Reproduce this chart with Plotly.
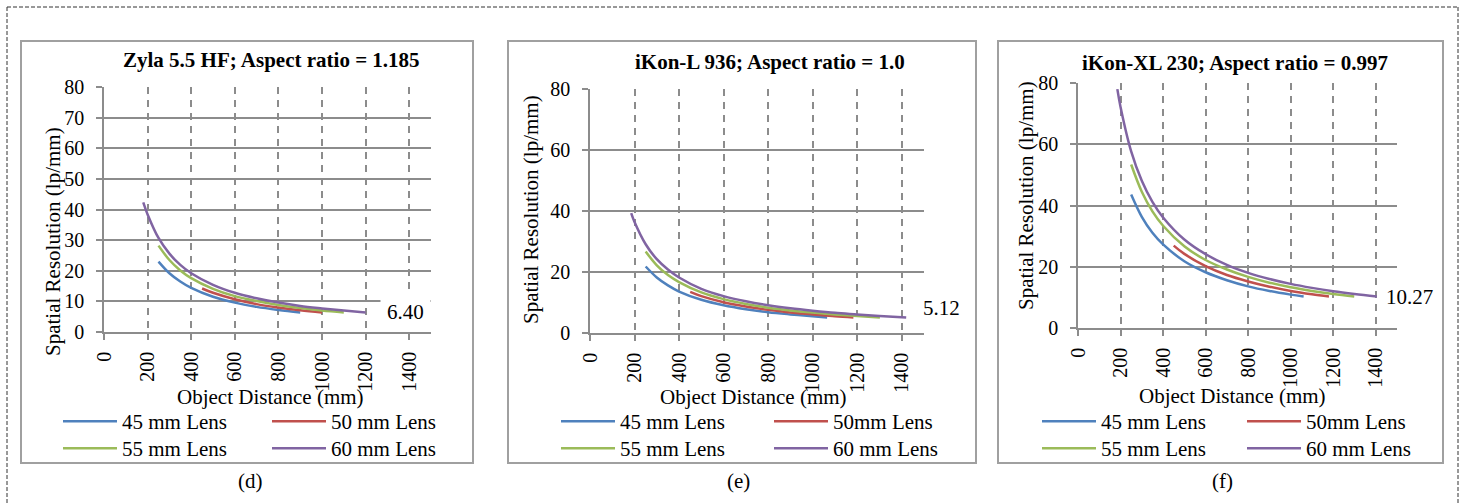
import plotly.graph_objects as go

W, H = 1465, 504
FONT = "Liberation Serif"
GRID = "#8c8c8c"
BOXC = "#a0a0a0"

lens_colors = ["#4F81BD", "#C0504D", "#9BBB59", "#8064A2"]

# ---------------- Panel (d): Zyla 5.5 HF ----------------
d_x45 = [250, 300, 350, 400, 500, 600, 700, 800, 900]
d_y45 = [23.0, 19.2, 16.5, 14.4, 11.5, 9.6, 8.2, 7.2, 6.4]
d_x50 = [450, 500, 600, 700, 800, 900, 1000]
d_y50 = [14.2, 12.8, 10.7, 9.1, 8.0, 7.1, 6.4]
d_x55 = [250, 300, 350, 400, 500, 600, 700, 800, 900, 1000, 1100]
d_y55 = [28.2, 23.5, 20.1, 17.6, 14.1, 11.7, 10.1, 8.8, 7.8, 7.0, 6.4]
d_x60 = [180, 200, 250, 300, 350, 400, 500, 600, 700, 800, 900, 1000, 1100, 1200]
d_y60 = [42.3, 38.4, 30.7, 25.6, 21.9, 19.2, 15.4, 12.8, 11.0, 9.6, 8.5, 7.7, 7.0, 6.4]
d_names = ["45 mm Lens", "50 mm Lens", "55 mm Lens", "60 mm Lens"]

# ---------------- Panel (e): iKon-L 936 ----------------
e_x45 = [250, 300, 350, 400, 500, 600, 700, 800, 900, 1000, 1065]
e_y45 = [21.8, 18.2, 15.6, 13.6, 10.9, 9.1, 7.8, 6.8, 6.1, 5.5, 5.12]
e_x50 = [450, 500, 600, 700, 800, 900, 1000, 1100, 1183]
e_y50 = [13.5, 12.1, 10.1, 8.7, 7.6, 6.7, 6.1, 5.5, 5.12]
e_x55 = [250, 300, 350, 400, 500, 600, 700, 800, 900, 1000, 1100, 1200, 1302]
e_y55 = [26.7, 22.2, 19.0, 16.7, 13.3, 11.1, 9.5, 8.3, 7.4, 6.7, 6.1, 5.6, 5.12]
e_x60 = [185, 200, 250, 300, 350, 400, 500, 600, 700, 800, 900, 1000, 1100, 1200, 1300, 1420]
e_y60 = [39.3, 36.4, 29.1, 24.2, 20.8, 18.2, 14.5, 12.1, 10.4, 9.1, 8.1, 7.3, 6.6, 6.1, 5.6, 5.12]
e_names = ["45 mm Lens", "50mm Lens", "55 mm Lens", "60 mm Lens"]

# ---------------- Panel (f): iKon-XL 230 ----------------
f_x45 = [250, 300, 350, 400, 500, 600, 700, 800, 900, 1000, 1061]
f_y45 = [43.6, 36.3, 31.1, 27.3, 21.8, 18.2, 15.6, 13.6, 12.1, 10.9, 10.27]
f_x50 = [450, 500, 600, 700, 800, 900, 1000, 1100, 1180]
f_y50 = [26.9, 24.2, 20.2, 17.3, 15.2, 13.5, 12.1, 11.0, 10.27]
f_x55 = [250, 300, 350, 400, 500, 600, 700, 800, 900, 1000, 1100, 1200, 1299]
f_y55 = [53.4, 44.5, 38.1, 33.4, 26.7, 22.2, 19.1, 16.7, 14.8, 13.3, 12.1, 11.1, 10.27]
f_x60 = [185, 200, 250, 300, 350, 400, 500, 600, 700, 800, 900, 1000, 1100, 1200, 1300, 1405]
f_y60 = [78.0, 72.2, 57.7, 48.1, 41.2, 36.1, 28.9, 24.1, 20.6, 18.0, 16.0, 14.4, 13.1, 12.0, 11.1, 10.27]
f_names = ["45 mm Lens", "50mm Lens", "55 mm Lens", "60 mm Lens"]

titles = ["Zyla 5.5 HF; Aspect ratio = 1.185",
          "iKon-L 936; Aspect ratio = 1.0",
          "iKon-XL 230; Aspect ratio = 0.997"]
captions = ["(d)", "(e)", "(f)"]
end_labels = ["6.40", "5.12", "10.27"]
y_dticks = [10, 20, 20]
x_tickvals = [0, 200, 400, 600, 800, 1000, 1200, 1400]
y_title = "Spatial Resolution (lp/mm)"
x_title = "Object Distance (mm)"

panels = [
    ([d_x45, d_x50, d_x55, d_x60], [d_y45, d_y50, d_y55, d_y60], d_names),
    ([e_x45, e_x50, e_x55, e_x60], [e_y45, e_y50, e_y55, e_y60], e_names),
    ([f_x45, f_x50, f_x55, f_x60], [f_y45, f_y50, f_y55, f_y60], f_names),
]

# ---------- layout geometry (pixels) ----------
plot_px = [  # x0, x1, ytop, ybottom of plot area
    (104, 431, 87, 332),
    (590, 924, 89, 333),
    (1078, 1397, 83, 328),
]
box_px = [(21, 473), (508, 976), (998, 1443)]
box_y = (41, 463)
title_pos = [(271, 60), (770, 62), (1235, 63)]
ytitle_pos = [(53, 242), (531, 210), (1026, 196)]
xtitle_pos = [(270, 397), (753, 397), (1232, 396)]
caption_pos = [(250, 481), (738, 481), (1222, 481)]
legend_cols = [(58, 267), (556, 769), (1037, 1242)]
legend_rows = [401, 428]   # top of each legend row (px)
label_shift = [(14, 0), (10, 9), (2, 0)]
# legend slot of each lens: (column, row)
slots = [(0, 0), (1, 0), (0, 1), (1, 1)]


def px(x):
    return x / W


def py(y):
    return 1 - y / H


fig = go.Figure()
shapes = []
annotations = []

for i, (xs, ys, names) in enumerate(panels):
    ax = "" if i == 0 else str(i + 1)
    for j in range(4):
        leg_idx = 4 * i + j
        leg = "legend" if leg_idx == 0 else f"legend{leg_idx + 1}"
        fig.add_trace(go.Scatter(
            x=xs[j], y=ys[j], mode="lines", name=names[j],
            line=dict(color=lens_colors[j], width=2.5, shape="spline", smoothing=1.0),
            xaxis="x" + ax, yaxis="y" + ax, legend=leg,
            hoverinfo="x+y+name",
        ))
        c, r = slots[j]
        fig.layout[leg] = dict(
            x=px(legend_cols[i][c]), xanchor="left", y=py(legend_rows[r]), yanchor="top",
            orientation="v", bgcolor="rgba(0,0,0,0)", borderwidth=0,
            font=dict(family=FONT, size=21, color="black"),
            itemwidth=54, tracegroupgap=0)
    x0, x1, yt, yb = plot_px[i]
    common = dict(showline=True, linecolor=GRID, linewidth=1.5,
                  ticks="outside", ticklen=6, tickwidth=1.5, tickcolor=GRID,
                  zeroline=False, gridcolor=GRID, gridwidth=1.5, automargin=False,
                  tickfont=dict(family=FONT, size=20, color="black"))
    fig.layout["xaxis" + ax] = dict(
        domain=[px(x0), px(x1)], range=[0, 1500], anchor="y" + ax,
        tickmode="array", tickvals=x_tickvals, tickangle=-90,
        showgrid=True, griddash="7px,6px", ticklabelstandoff=4, **common)
    fig.layout["yaxis" + ax] = dict(
        domain=[py(yb), py(yt)], range=[0, 80], anchor="x" + ax,
        dtick=y_dticks[i], tick0=0, showgrid=True, ticklabelstandoff=8, **common)

    # panel box
    shapes.append(dict(type="rect", xref="paper", yref="paper",
                       x0=px(box_px[i][0]), x1=px(box_px[i][1]),
                       y0=py(box_y[1]), y1=py(box_y[0]),
                       line=dict(color=BOXC, width=2), layer="below"))
    annotations.append(dict(text="<b>" + titles[i] + "</b>", xref="paper", yref="paper",
                            x=px(title_pos[i][0]), y=py(title_pos[i][1]),
                            xanchor="center", yanchor="middle", showarrow=False,
                            font=dict(family=FONT, size=21, color="black")))
    annotations.append(dict(text=y_title, xref="paper", yref="paper", textangle=-90,
                            x=px(ytitle_pos[i][0]), y=py(ytitle_pos[i][1]),
                            xanchor="center", yanchor="middle", showarrow=False,
                            font=dict(family=FONT, size=21, color="black")))
    annotations.append(dict(text=x_title, xref="paper", yref="paper",
                            x=px(xtitle_pos[i][0]), y=py(xtitle_pos[i][1]),
                            xanchor="center", yanchor="middle", showarrow=False,
                            font=dict(family=FONT, size=21, color="black")))
    annotations.append(dict(text=captions[i], xref="paper", yref="paper",
                            x=px(caption_pos[i][0]), y=py(caption_pos[i][1]),
                            xanchor="center", yanchor="middle", showarrow=False,
                            font=dict(family=FONT, size=21, color="black")))
    # end data label (last point of the 60 mm lens)
    annotations.append(dict(text=end_labels[i], xref="x" + ax, yref="y" + ax,
                            x=xs[3][-1], y=ys[3][-1], xanchor="left", yanchor="middle",
                            xshift=label_shift[i][0], yshift=label_shift[i][1],
                            showarrow=False, bgcolor="white", borderpad=6,
                            font=dict(family=FONT, size=21, color="black")))

# outer dashed frame
for (xa, ya, xb, yb) in [(7, 7, 1458, 7), (7, 7, 7, 504), (1458, 7, 1458, 504)]:
    shapes.append(dict(type="line", xref="paper", yref="paper",
                       x0=px(xa), y0=py(ya), x1=px(xb), y1=py(yb),
                       line=dict(color="#333333", width=1, dash="4px,2px")))

fig.update_layout(
    width=W, height=H, margin=dict(l=0, r=0, t=0, b=0, autoexpand=False),
    paper_bgcolor="white", plot_bgcolor="white",
    font=dict(family=FONT, size=20, color="black"),
    shapes=shapes, annotations=annotations, showlegend=True,
)

fig.write_html("out.html")
